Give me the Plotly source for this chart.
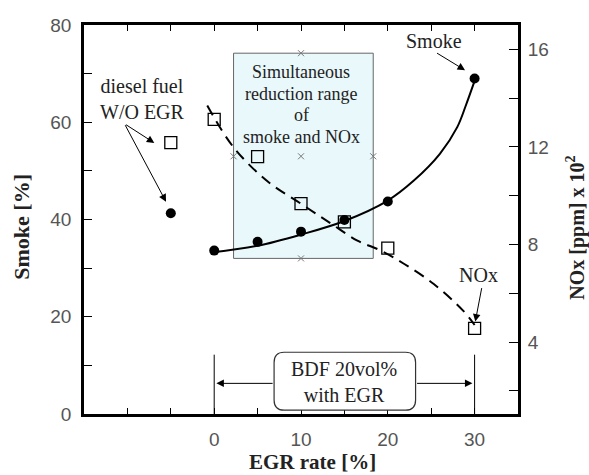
import plotly.graph_objects as go

# ---- measured data -------------------------------------------------------
# EGR rate [%] for BDF 20vol% with EGR
egr = [0, 5, 10, 15, 20, 30]
smoke = [33.6, 35.4, 37.5, 39.9, 43.7, 69.0]          # Smoke [%]
nox = [13.13, 11.6, 9.68, 8.93, 7.85, 4.56]           # NOx [ppm] x 10^2

# diesel fuel without EGR (plotted at x = -5)
diesel_x = [-5]
diesel_smoke = [41.3]
diesel_nox = [12.18]

# fitted trend lines
smoke_fit_x = [-0.3, 5, 10, 15, 20, 23, 26, 28, 29, 30]
smoke_fit_y = [33.2, 34.6, 36.9, 39.7, 43.9, 48.0, 53.5, 59.0, 63.5, 68.5]
nox_fit_x = [-0.8, 2.2, 6.1, 10, 13.4, 16.5, 19.2, 21.9, 25.3, 28.7, 30]
nox_fit_y = [13.7, 12.0, 10.6, 9.67, 8.87, 8.16, 7.75, 7.2, 6.38, 5.28, 4.7]

# axis ticks
x_tickvals = [-10, -5, 0, 5, 10, 15, 20, 25, 30]
x_ticktext = ["", "", "0", "", "10", "", "20", "", "30"]
y_tickvals = [0, 10, 20, 30, 40, 50, 60, 70, 80]
y_ticktext = ["0", "", "20", "", "40", "", "60", "", "80"]
y2_tickvals = [2, 4, 6, 8, 10, 12, 14, 16]
y2_ticktext = ["", "4", "", "8", "", "12", "", "16"]

# text inside the shaded region, one entry per line
region_lines = ["Simultaneous", "reduction range", "of", "smoke and NOx"]

# ---- layout constants ----------------------------------------------------
W, H = 589, 475
L, R, T, B = 84, 71, 25, 60.5
SERIF = "Liberation Serif, Times New Roman, serif"
SANS = "Liberation Sans, Arial, sans-serif"
TXT = "#222222"

def px(xp):
    return (xp - L) / (W - L - R)

def py(yp):
    return (H - B - yp) / (H - T - B)

fig = go.Figure()

# shaded region: simultaneous reduction range
fig.add_shape(type="rect", x0=2.23, x1=18.32, y0=32.0, y1=74.2,
              xref="x", yref="y", fillcolor="#e9f8fb",
              line=dict(color="#666666", width=1), layer="below")

# small cross marks on the region outline
fig.add_trace(go.Scatter(
    x=[10, 10, 2.23, 18.32, 10], y=[74.2, 32.0, 53.0, 53.0, 53.0],
    mode="markers", marker=dict(symbol="x-thin", size=6,
                                line=dict(color="#777777", width=1)),
    showlegend=False, hoverinfo="skip"))

# trend lines
fig.add_trace(go.Scatter(x=smoke_fit_x, y=smoke_fit_y, mode="lines",
                         line=dict(color="black", width=2, shape="spline"),
                         showlegend=False))
fig.add_trace(go.Scatter(x=nox_fit_x, y=nox_fit_y, mode="lines", yaxis="y2",
                         line=dict(color="black", width=2, shape="spline",
                                   dash="11px,7px"),
                         showlegend=False))

# measured points
fig.add_trace(go.Scatter(x=egr + diesel_x, y=smoke + diesel_smoke,
                         mode="markers",
                         marker=dict(symbol="circle", size=10, color="black"),
                         showlegend=False))
fig.add_trace(go.Scatter(x=egr + diesel_x, y=nox + diesel_nox, yaxis="y2",
                         mode="markers",
                         marker=dict(symbol="square-open", size=12,
                                     color="black", line=dict(width=1.3)),
                         showlegend=False))

# BDF bracket: vertical limits, rounded label box, arrows
for xv in (0, 30):
    fig.add_shape(type="line", x0=xv, x1=xv, y0=0, y1=12.2, xref="x", yref="y",
                  line=dict(color="black", width=1))

x0, x1, y0, y1, rx, ry = 6.9, 23.2, 0.8, 12.7, 1.15, 2.1
path = (f"M {x0+rx},{y0} L {x1-rx},{y0} Q {x1},{y0} {x1},{y0+ry} "
        f"L {x1},{y1-ry} Q {x1},{y1} {x1-rx},{y1} L {x0+rx},{y1} "
        f"Q {x0},{y1} {x0},{y1-ry} L {x0},{y0+ry} Q {x0},{y0} {x0+rx},{y0} Z")
fig.add_shape(type="path", path=path, xref="x", yref="y",
              fillcolor="white", line=dict(color="#333333", width=1.2))

annotations = []

def arrow(hx, hy, tx, ty, yref="y"):
    annotations.append(dict(x=hx, y=hy, ax=tx, ay=ty, xref="x", yref=yref,
                            axref="x", ayref=yref, text="", showarrow=True,
                            arrowhead=2, arrowsize=1.5, arrowwidth=1,
                            arrowcolor="black"))

def label(x, y, text, size, xref="x", yref="y", angle=0):
    annotations.append(dict(x=x, y=y, xref=xref, yref=yref, text=text,
                            showarrow=False, textangle=angle,
                            xanchor="center", yanchor="middle",
                            font=dict(family=SERIF, size=size, color=TXT)))

arrow(0.25, 6.3, 6.9, 6.3)
arrow(29.75, 6.3, 23.2, 6.3)
label(14.95, 6.6, "BDF 20vol%<br>with EGR", 20)

# region label, placed line by line
for i, line in enumerate(region_lines):
    label(10, (414.5 - (71.7 + 21.7 * i)) / 4.875, line, 18)

# diesel fuel label
label(-8.25, 64.7, "diesel fuel<br>W/O EGR", 20)
arrow(-6.9, 55.75, -10.34, 59.7)
arrow(-5.55, 43.65, -10.34, 59.7)

# series labels
label(25.3, 76.7, "Smoke", 20)
arrow(28.9, 70.7, 25.5, 74.4)
label(30.46, 28.6, "NOx", 20)
arrow(30.08, 19.0, 30.85, 26.2)

# axis titles
label(px(312), py(463), "<b>EGR rate [%]</b>", 21, "paper", "paper")
label(px(22), py(227), "<b>Smoke [%]</b>", 22, "paper", "paper", -90)
label(px(576), py(228), "<b>NOx [ppm] x 10<sup>2</sup></b>", 20,
      "paper", "paper", -90)

tickfont = dict(family=SANS, size=19, color="#555555")

fig.update_layout(
    width=W, height=H,
    margin=dict(l=L, r=R, t=T, b=B, pad=0),
    paper_bgcolor="white", plot_bgcolor="white",
    showlegend=False,
    annotations=annotations,
    xaxis=dict(range=[-15, 35], tickvals=x_tickvals, ticktext=x_ticktext,
               ticks="inside", ticklen=6, tickwidth=1.2, tickcolor="black",
               showline=True, linecolor="black", linewidth=2.5,
               mirror="ticks", showgrid=False, zeroline=False,
               tickfont=tickfont, ticklabelstandoff=6),
    yaxis=dict(range=[0, 80], tickvals=y_tickvals, ticktext=y_ticktext,
               ticks="inside", ticklen=8, tickwidth=1.2, tickcolor="black",
               showline=True, linecolor="black", linewidth=2.5,
               mirror=True, showgrid=False, zeroline=False,
               tickfont=tickfont, ticklabelstandoff=6),
    yaxis2=dict(range=[1.05, 17.0], overlaying="y", side="right",
                tickvals=y2_tickvals, ticktext=y2_ticktext,
                ticks="inside", ticklen=9, tickwidth=1.2, tickcolor="black",
                showline=True, linecolor="black", linewidth=2,
                showgrid=False, zeroline=False,
                tickfont=tickfont, ticklabelstandoff=4),
)

fig.write_html("out.html")
